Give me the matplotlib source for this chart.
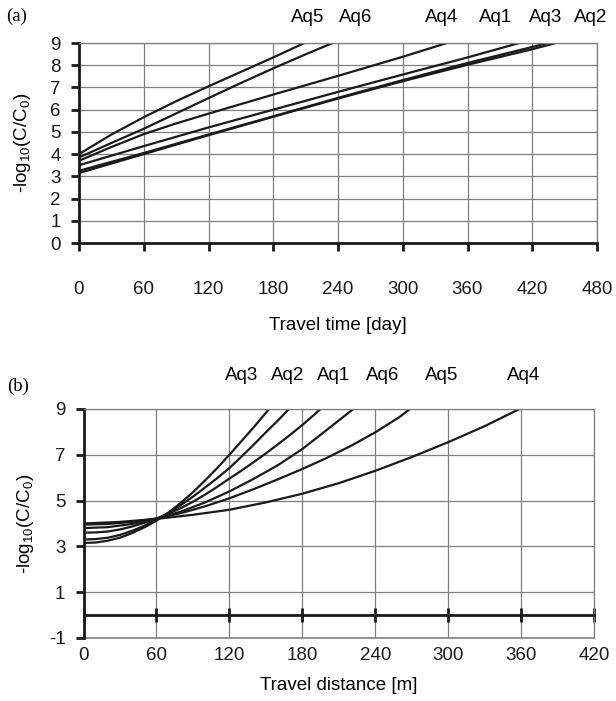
import matplotlib
matplotlib.use("Agg")
import matplotlib.pyplot as plt

plt.rcParams['font.family'] = ['Liberation Sans', 'DejaVu Sans']
plt.rcParams['mathtext.fontset'] = 'custom'
plt.rcParams['mathtext.rm'] = 'Liberation Sans'
plt.rcParams['mathtext.it'] = 'Liberation Sans'
plt.rcParams['axes.unicode_minus'] = False

# ---------------- Panel (a): travel time ----------------
a_names = ["Aq1", "Aq2", "Aq3", "Aq4", "Aq5", "Aq6"]
a_x = {
    "Aq5": [0, 30, 60, 90, 120, 150, 180, 208.8],
    "Aq6": [0, 30, 60, 90, 120, 150, 180, 210, 235],
    "Aq4": [0, 30, 60, 90, 120, 180, 240, 300, 341],
    "Aq1": [0, 60, 120, 180, 240, 300, 360, 408],
    "Aq3": [0, 60, 120, 180, 240, 300, 360, 420, 434],
    "Aq2": [0, 60, 120, 180, 240, 300, 360, 420, 442],
}
a_y = {
    "Aq5": [4.0, 4.88, 5.66, 6.38, 7.05, 7.7, 8.35, 9.0],
    "Aq6": [3.85, 4.5, 5.14, 5.83, 6.52, 7.2, 7.86, 8.49, 9.0],
    "Aq4": [3.7, 4.32, 4.9, 5.38, 5.82, 6.68, 7.52, 8.38, 9.0],
    "Aq1": [3.5, 4.36, 5.2, 6.0, 6.8, 7.58, 8.35, 9.0],
    "Aq3": [3.25, 4.05, 4.88, 5.7, 6.53, 7.33, 8.1, 8.82, 9.0],
    "Aq2": [3.15, 4.0, 4.85, 5.68, 6.5, 7.28, 8.02, 8.72, 9.0],
}
a_label_order = ["Aq5", "Aq6", "Aq4", "Aq1", "Aq3", "Aq2"]
a_label_x = [212, 256, 336, 386, 432, 474]
a_xticks = [0, 60, 120, 180, 240, 300, 360, 420, 480]
a_yticks = [0, 1, 2, 3, 4, 5, 6, 7, 8, 9]

# ---------------- Panel (b): travel distance ----------------
b_x = {
    "Aq3": [0, 10, 20, 30, 40, 50, 60, 70, 80, 90, 100, 110, 120, 130, 140, 152.7],
    "Aq2": [0, 10, 20, 30, 40, 50, 60, 70, 80, 90, 100, 110, 120, 130, 140, 150, 160, 169],
    "Aq1": [0, 10, 20, 30, 40, 50, 60, 70, 80, 90, 100, 110, 120, 130, 140, 150,
            160, 170, 180, 190, 195],
    "Aq6": [0, 20, 40, 60, 80, 100, 120, 140, 160, 180, 200, 222],
    "Aq5": [0, 20, 40, 60, 80, 100, 120, 140, 160, 180, 200, 220, 240, 260, 268.6],
    "Aq4": [0, 30, 60, 90, 120, 150, 180, 210, 240, 270, 300, 330, 358.7],
}
b_y = {
    "Aq3": [3.15, 3.17, 3.25, 3.38, 3.58, 3.83, 4.12, 4.48, 4.9, 5.36, 5.88, 6.42,
            7.0, 7.6, 8.2, 9.0],
    "Aq2": [3.3, 3.32, 3.38, 3.5, 3.68, 3.9, 4.17, 4.47, 4.8, 5.17, 5.57, 5.98,
            6.42, 6.92, 7.44, 7.98, 8.5, 9.0],
    "Aq1": [3.6, 3.61, 3.65, 3.74, 3.87, 4.03, 4.22, 4.43, 4.67, 4.95, 5.26, 5.6,
            5.96, 6.31, 6.68, 7.06, 7.46, 7.87, 8.3, 8.76, 9.0],
    "Aq6": [3.8, 3.84, 3.98, 4.2, 4.52, 4.92, 5.4, 5.95, 6.55, 7.25, 8.08, 9.0],
    "Aq5": [3.95, 3.98, 4.07, 4.22, 4.45, 4.75, 5.1, 5.5, 5.93, 6.38, 6.86, 7.39,
            7.98, 8.65, 9.0],
    "Aq4": [4.0, 4.07, 4.2, 4.38, 4.6, 4.92, 5.3, 5.76, 6.3, 6.9, 7.55, 8.25, 9.0],
}
b_label_order = ["Aq3", "Aq2", "Aq1", "Aq6", "Aq5", "Aq4"]
b_label_x = [130, 168, 206, 246, 295, 362]
b_xticks = [0, 60, 120, 180, 240, 300, 360, 420]
b_yticks = [-1, 1, 3, 5, 7, 9]

FS = 13.5
GRID = '#7f7f7f'
INK = '#1a1a1a'
ylab = r'-log$_\mathregular{10}$(C/C$_\mathregular{0}$)'

fig = plt.figure(figsize=(6.16, 7.01), dpi=100)

# ---- (a)
axa = fig.add_axes([79/616, 1 - 243/701, 518/616, 200/701])
for n in a_names:
    axa.plot(a_x[n], a_y[n], color=INK, lw=1.6, solid_joinstyle='round')
axa.set_xlim(0, 480)
axa.set_ylim(0, 9)
axa.set_xticks(a_xticks)
axa.set_yticks(a_yticks)
axa.grid(True, color=GRID, lw=0.9)
axa.set_axisbelow(True)
for s in ['top', 'right']:
    axa.spines[s].set_color(GRID)
    axa.spines[s].set_linewidth(0.9)
for s in ['left', 'bottom']:
    axa.spines[s].set_color(INK)
    axa.spines[s].set_linewidth(2.0)
axa.tick_params(axis='both', direction='out', length=6, width=2.0,
                labelsize=FS, colors=INK)
axa.tick_params(axis='x', pad=21)
axa.tick_params(axis='y', pad=7)
axa.set_xlabel('Travel time [day]', fontsize=FS, labelpad=14)
axa.set_ylabel(ylab, fontsize=FS)
axa.yaxis.set_label_coords(-0.089, 0.5)
for n, xv in zip(a_label_order, a_label_x):
    axa.text(xv, 10.15, n, ha='center', va='center', fontsize=FS, clip_on=False)
axa.text(-58, 10.2, '(a)', ha='center', va='center', fontsize=FS,
         family='Liberation Serif', clip_on=False)

# ---- (b)
axb = fig.add_axes([83.5/616, 1 - 638/701, 510.5/616, 229/701])
for n in b_label_order:
    axb.plot(b_x[n], b_y[n], color=INK, lw=1.6, solid_joinstyle='round')
axb.set_xlim(0, 420)
axb.set_ylim(-1, 9)
axb.set_xticks(b_xticks)
axb.set_yticks(b_yticks)
axb.grid(True, color=GRID, lw=0.9)
axb.set_axisbelow(True)
axb.axhline(-1, color=GRID, lw=1.2, clip_on=False, zorder=0.5)
for s in ['top', 'right']:
    axb.spines[s].set_color(GRID)
    axb.spines[s].set_linewidth(0.9)
axb.spines['left'].set_color(INK)
axb.spines['left'].set_linewidth(2.0)
axb.spines['bottom'].set_position(('data', 0))
axb.spines['bottom'].set_color(INK)
axb.spines['bottom'].set_linewidth(2.0)
axb.tick_params(axis='x', direction='inout', length=10, width=2.0,
                labelsize=FS, colors=INK, pad=18)
axb.tick_params(axis='y', direction='out', length=6, width=2.0,
                labelsize=FS, colors=INK, pad=7)
axb.set_xlabel('Travel distance [m]', fontsize=FS)
axb.xaxis.set_label_coords(0.5, -0.17)
axb.set_ylabel(ylab, fontsize=FS)
axb.yaxis.set_label_coords(-0.093, 0.5)
for n, xv in zip(b_label_order, b_label_x):
    axb.text(xv, 10.45, n, ha='center', va='center', fontsize=FS, clip_on=False)
axb.text(-54, 10.0, '(b)', ha='center', va='center', fontsize=FS,
         family='Liberation Serif', clip_on=False)

fig.savefig('out.png', dpi=100)
